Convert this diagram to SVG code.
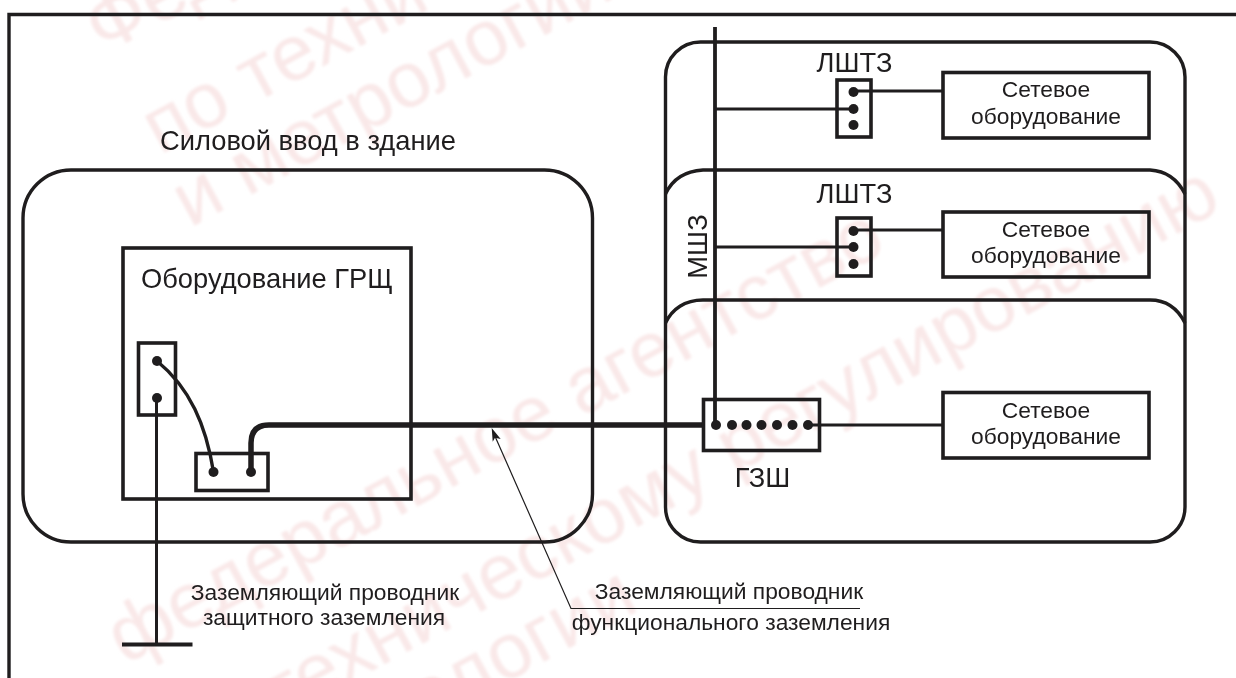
<svg xmlns="http://www.w3.org/2000/svg" width="1236" height="678" viewBox="0 0 1236 678">
<defs><filter id="soft" x="-5%" y="-5%" width="110%" height="110%"><feGaussianBlur stdDeviation="1.500"/></filter></defs>
<style>
text{font-family:"Liberation Sans",Arial,sans-serif;fill:#1f1d1e}
.wm{font-size:78px;fill:#f9e8e8}
.s{fill:none;stroke:#1f1d1e;stroke-width:3.4}
.box{fill:none;stroke:#1f1d1e;stroke-width:3.6}
.w{fill:none;stroke:#1f1d1e;stroke-width:3}
.d{fill:#1f1d1e}
.t{font-size:22.800px;text-anchor:middle}
.l{font-size:27.300px;text-anchor:middle}
</style>
<rect width="1236" height="678" fill="#fff"/>
<g id="watermark" filter="url(#soft)">
<text class="wm" transform="translate(103,55) rotate(-28.500)">Федеральное агентство</text>
<text class="wm" transform="translate(160,155) rotate(-28.500)">по техническому регулированию</text>
<text class="wm" transform="translate(190,228) rotate(-28.500)">и метрологии</text>
<text class="wm" transform="translate(125,665) rotate(-28.500)">федеральное агентство</text>
<text class="wm" transform="translate(184,773) rotate(-28.500)">по техническому регулированию</text>
<text class="wm" transform="translate(214,841) rotate(-28.500)">и метрологии</text>
</g>
<g id="frame"><path class="s" d="M9 678V14.500H1236"/></g>
<g id="room-1"><path class="s" d="M700.500 42H1150a35 35 0 0 1 35 35V300M665.500 300V77a35 35 0 0 1 35-35"/></g>
<g id="room-2"><path class="s" d="M665.500 194C672 180 685 171 703 170H1150C1167 171 1178 180 1185 194"/></g>
<g id="room-3"><path class="s" d="M665.500 300V507a35 35 0 0 0 35 35H1150a35 35 0 0 0 35-35V300"/><path class="s" d="M665.500 323C672 309 685 300 703 300H1150C1167 300 1178 309 1185 323"/></g>
<g id="power-entry"><rect class="s" x="23" y="170" width="569.500" height="372" rx="48"/>
<text x="160" y="150" font-size="27.300">Силовой ввод в здание</text></g>
<g id="grsh"><rect class="box" x="123" y="248" width="288" height="251"/>
<text x="141" y="288" font-size="27.300">Оборудование ГРЩ</text></g>
<g id="connectors">
<path class="s" d="M715 27V425" style="stroke-width:3.800"/>
<path class="w" d="M715 109H853M853 91H943M715 247H853M853 230H943M808 425H943M156.500 398V645"/>
<path class="s" d="M122 644.500H192.500" style="stroke-width:3.800"/>
<path class="w" d="M157 361C190 388 206 425 213.500 472" style="stroke-width:3.400"/>
<path fill="none" stroke="#1f1d1e" stroke-width="5.500" d="M251 472V443Q251 425 269 425H703"/>
<path fill="none" stroke="#1f1d1e" stroke-width="1.200" d="M860 608.500H571L494 434"/>
<path class="d" d="M491.700 428L500.700 439L495 437.800L492.700 441.700Z"/>
</g>
<g id="pe-bar"><rect class="box" x="138.500" y="343" width="37" height="72"/><circle class="d" cx="157" cy="361" r="5"/><circle class="d" cx="157" cy="398" r="5"/></g>
<g id="sub-bar"><rect class="box" x="196" y="453.500" width="72" height="37"/><circle class="d" cx="213.500" cy="472" r="5"/><circle class="d" cx="251" cy="472" r="5"/></g>
<g id="lshtz-1"><rect class="box" x="837" y="80" width="34" height="57"/><circle class="d" cx="853.500" cy="92" r="5"/><circle class="d" cx="853.500" cy="109" r="5"/><circle class="d" cx="853.500" cy="125" r="5"/><text class="l" x="854.500" y="71.500">ЛШТЗ</text></g>
<g id="lshtz-2"><rect class="box" x="837" y="218" width="34" height="58"/><circle class="d" cx="853.500" cy="231" r="5"/><circle class="d" cx="853.500" cy="247" r="5"/><circle class="d" cx="853.500" cy="264" r="5"/><text class="l" x="854.500" y="203">ЛШТЗ</text></g>
<g id="msz"><text class="l" transform="translate(707,246.500) rotate(-90)">МШЗ</text></g>
<g id="gzsh"><rect class="box" x="703.500" y="399.500" width="116" height="51"/>
<circle class="d" cx="716" cy="425" r="5"/><circle class="d" cx="732" cy="425" r="5"/><circle class="d" cx="746.500" cy="425" r="5"/><circle class="d" cx="761.500" cy="425" r="5"/><circle class="d" cx="777" cy="425" r="5"/><circle class="d" cx="792.500" cy="425" r="5"/><circle class="d" cx="808" cy="425" r="5"/>
<text class="l" x="762.500" y="486.500">ГЗШ</text></g>
<g id="net-1"><rect class="box" x="943" y="72.500" width="206" height="65.500"/><text class="t" x="1046" y="97">Сетевое</text><text class="t" x="1046" y="124">оборудование</text></g>
<g id="net-2"><rect class="box" x="943" y="212" width="206" height="65"/><text class="t" x="1046" y="237">Сетевое</text><text class="t" x="1046" y="263">оборудование</text></g>
<g id="net-3"><rect class="box" x="943" y="392.500" width="206" height="65.500"/><text class="t" x="1046" y="418">Сетевое</text><text class="t" x="1046" y="444">оборудование</text></g>
<g id="labels">
<text class="t" x="325" y="600">Заземляющий проводник</text>
<text class="t" x="324" y="625">защитного заземления</text>
<text class="t" x="729" y="599">Заземляющий проводник</text>
<text class="t" x="731" y="630">функционального заземления</text>
</g>
</svg>
